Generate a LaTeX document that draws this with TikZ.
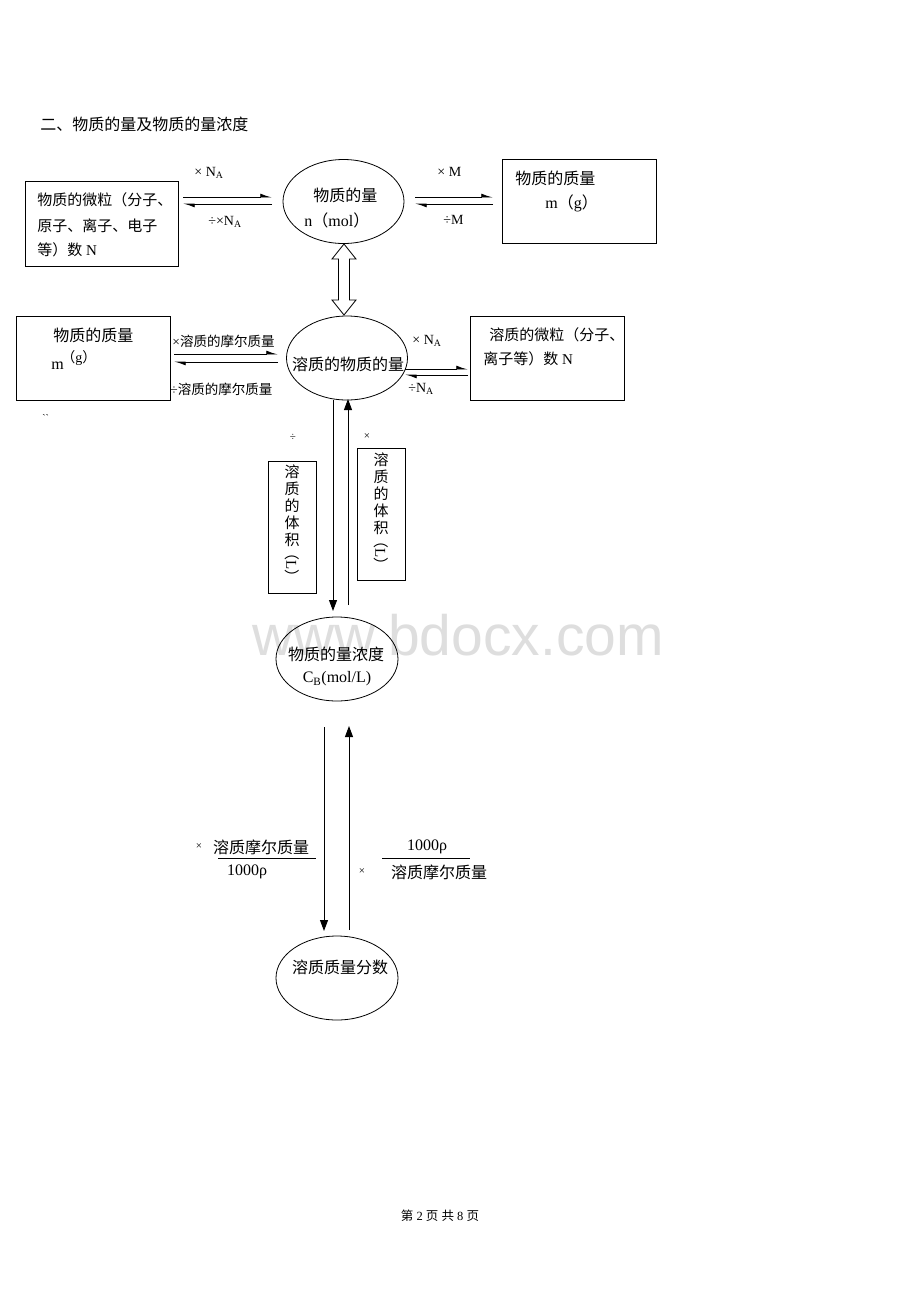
\documentclass[tikz,border=0pt]{standalone}
\usepackage{fontspec}
\setmainfont{Liberation Serif}
\newfontfamily\cjk{Noto Sans CJK SC}
\newfontfamily\wmfont{Liberation Sans}
\usetikzlibrary{arrows.meta,shapes.geometric}
\newcommand{\zh}[1]{{\cjk #1}}
\newcommand{\NA}{N\textsubscript{A}}
\begin{document}
\begin{tikzpicture}[x=1pt,y=-1pt,line width=0.8pt,
  box/.style={draw,inner sep=0,minimum width=153pt,minimum height=85pt},
  oval/.style={draw,ellipse,inner sep=0,minimum width=121pt,minimum height=84pt},
  tl/.style={inner sep=0,anchor=west},
  tc/.style={inner sep=0,anchor=center},
  f16/.style={font=\fontsize{16}{19}\selectfont},
  f15/.style={font=\fontsize{15}{18}\selectfont},
  f14/.style={font=\fontsize{14}{17}\selectfont},
  f13/.style={font=\fontsize{13.5}{16}\selectfont},
  harp/.style={-{Latex[left,length=10pt,width=7pt]},line width=0.8pt},
  vtip/.style={-{Triangle[length=11pt,width=8pt]},line width=0.9pt},
  vbox/.style={draw,inner sep=0,minimum width=48pt,minimum height=132pt},
  vtxt/.style={tc,align=center,font=\cjk\fontsize{15}{17}\selectfont},
  vrot/.style={tc,rotate=-90,font=\fontsize{15}{17}\selectfont}
]
\useasboundingbox (0,0) rectangle (920,1302);
\fill[white] (0,0) rectangle (920,1302);
% watermark
\node[inner sep=0,anchor=base,text=black!13,font=\wmfont\fontsize{57}{60}\selectfont] (wm) at (458,655) {www.bdocx.com};
% title
\node[tl,f16] (title) at (40,124) {\zh{二、物质的量及物质的量浓度}};
% row 1
\node[box] (b1) at (101.5,224) {};
\node[tl,f15] (b1a) at (37,200) {\zh{物质的微粒（分子、}};
\node[tl,f15] (b1b) at (37,226) {\zh{原子、离子、电子}};
\node[tl,f15] (b1c) at (37,250) {\zh{等）数} N};
\node[oval] (e1) at (343.5,201.5) {};
\node[tl,f16] (e1a) at (313,195) {\zh{物质的量}};
\node[tl,f16] (e1b) at (304,220) {n\zh{（}mol\zh{）}};
\node[box,minimum width=154pt,minimum height=84pt] (b2) at (579,201) {};
\node[tl,f16] (b2a) at (515,178) {\zh{物质的质量}};
\node[tl,f16] (b2b) at (545,203) {m\zh{（}g\zh{）}};
% harpoons row 1
\coordinate (h1a) at (183,197); \coordinate (h1b) at (272,197);
\coordinate (h1c) at (272,204); \coordinate (h1d) at (183,204);
\draw[harp] (h1a) -- (h1b);
\draw[harp] (h1c) -- (h1d);
\node[tl,f14] (l1) at (194,173) {\texttimes\ \NA};
\node[tl,f14] (l2) at (208,222) {\textdiv\texttimes\NA};
\coordinate (h2a) at (415,197); \coordinate (h2b) at (493,197);
\coordinate (h2c) at (493,204); \coordinate (h2d) at (415,204);
\draw[harp] (h2a) -- (h2b);
\draw[harp] (h2c) -- (h2d);
\node[tl,f14] (l3) at (437,172) {\texttimes\ M};
\node[tl,f14] (l4) at (443,220) {\textdiv M};
% hollow double arrow
\draw[line width=0.8pt,fill=white] (344,244) -- (356,259) -- (349.5,259) -- (349.5,300) -- (356,300) -- (344,315)
  -- (332,300) -- (338.5,300) -- (338.5,259) -- (332,259) -- cycle;
% row 2
\node[box,minimum width=154pt,minimum height=84pt] (b3) at (93,358) {};
\node[tl,f16] (b3a) at (53,335) {\zh{物质的质量}};
\node[tl,f16] (b3b) at (51,366) {m};
\node[tl,f14] (b3c) at (61,358) {\zh{（}g\zh{）}};
\node[oval] (e2) at (347,358) {};
\node[tc,f16] (e2a) at (348,364) {\zh{溶质的物质的量}};
\node[box,minimum width=154pt,minimum height=84pt] (b4) at (547,358) {};
\node[tl,f15] (b4a) at (489,335) {\zh{溶质的微粒（分子、}};
\node[tl,f15] (b4b) at (483,359) {\zh{离子等）数} N};
\coordinate (h3a) at (174,354); \coordinate (h3b) at (278,354);
\coordinate (h3c) at (278,362); \coordinate (h3d) at (174,362);
\draw[harp] (h3a) -- (h3b);
\draw[harp] (h3c) -- (h3d);
\node[tl,f13] (l5) at (172,341) {\texttimes\zh{溶质的摩尔质量}};
\node[tl,f13] (l6) at (170,389) {\textdiv\zh{溶质的摩尔质量}};
\coordinate (h4a) at (405,369); \coordinate (h4b) at (468,369);
\coordinate (h4c) at (468,375); \coordinate (h4d) at (405,375);
\draw[harp] (h4a) -- (h4b);
\draw[harp] (h4c) -- (h4d);
\node[tl,f14] (l7) at (412,341) {\texttimes\ \NA};
\node[tl,f14] (l8) at (408,389) {\textdiv\NA};
\node[tl,font=\fontsize{10}{12}\selectfont] (tick) at (42,418) {\textasciigrave\textasciigrave};
% vertical arrows upper
\coordinate (v1s) at (333,400); \coordinate (v1e) at (333,611);
\coordinate (v2s) at (348,605); \coordinate (v2e) at (348,399);
\draw[vtip] (v1s) -- (v1e);
\draw[vtip] (v2s) -- (v2e);
\node[tc,font=\fontsize{11}{13}\selectfont] (d1) at (293,437) {\textdiv};
\node[tc,font=\fontsize{11}{13}\selectfont] (m1) at (367,437) {\texttimes};
\node[vbox] (vb1) at (292,527) {};
\node[vtxt] (vt1) at (292,506) {溶\\质\\的\\体\\积};
\node[vrot] (vr1) at (292,565) {\zh{（}L\zh{）}};
\node[vbox] (vb2) at (381,514) {};
\node[vtxt] (vt2) at (381,494) {溶\\质\\的\\体\\积};
\node[vrot] (vr2) at (381,553) {\zh{（}L\zh{）}};
% ellipse 3
\node[oval,minimum width=122pt] (e3) at (337,659) {};
\node[tc,f16] (e3a) at (336,654) {\zh{物质的量浓度}};
\node[tc,f16] (e3b) at (337,679) {C\textsubscript{B}(mol/L)};
% vertical arrows lower
\coordinate (v3s) at (324,727); \coordinate (v3e) at (324,931);
\coordinate (v4s) at (349,930); \coordinate (v4e) at (349,726);
\draw[vtip] (v3s) -- (v3e);
\draw[vtip] (v4s) -- (v4e);
% fractions
\node[tc,font=\fontsize{11}{13}\selectfont] (m2) at (199,847) {\texttimes};
\node[tc,f16] (n1) at (261,847) {\zh{溶质摩尔质量}};
\coordinate (fl1a) at (218,858); \coordinate (fl1b) at (316,858);
\draw[line width=0.8pt] (fl1a) -- (fl1b);
\node[tc,f16] (dn1) at (247,872) {1000ρ};
\node[tc,font=\fontsize{11}{13}\selectfont] (m3) at (362,872) {\texttimes};
\node[tc,f16] (n2) at (427,847) {1000ρ};
\coordinate (fl2a) at (382,858); \coordinate (fl2b) at (470,858);
\draw[line width=0.8pt] (fl2a) -- (fl2b);
\node[tc,f16] (dn2) at (439,872) {\zh{溶质摩尔质量}};
% ellipse 4
\node[oval,minimum width=122pt] (e4) at (337,978) {};
\node[tc,f16] (e4a) at (340,967) {\zh{溶质质量分数}};
% footer
\node[tc,font=\fontsize{12.5}{15}\selectfont] (foot) at (440,1216) {\zh{第} 2 \zh{页} \zh{共} 8 \zh{页}};
\end{tikzpicture}
\end{document}
